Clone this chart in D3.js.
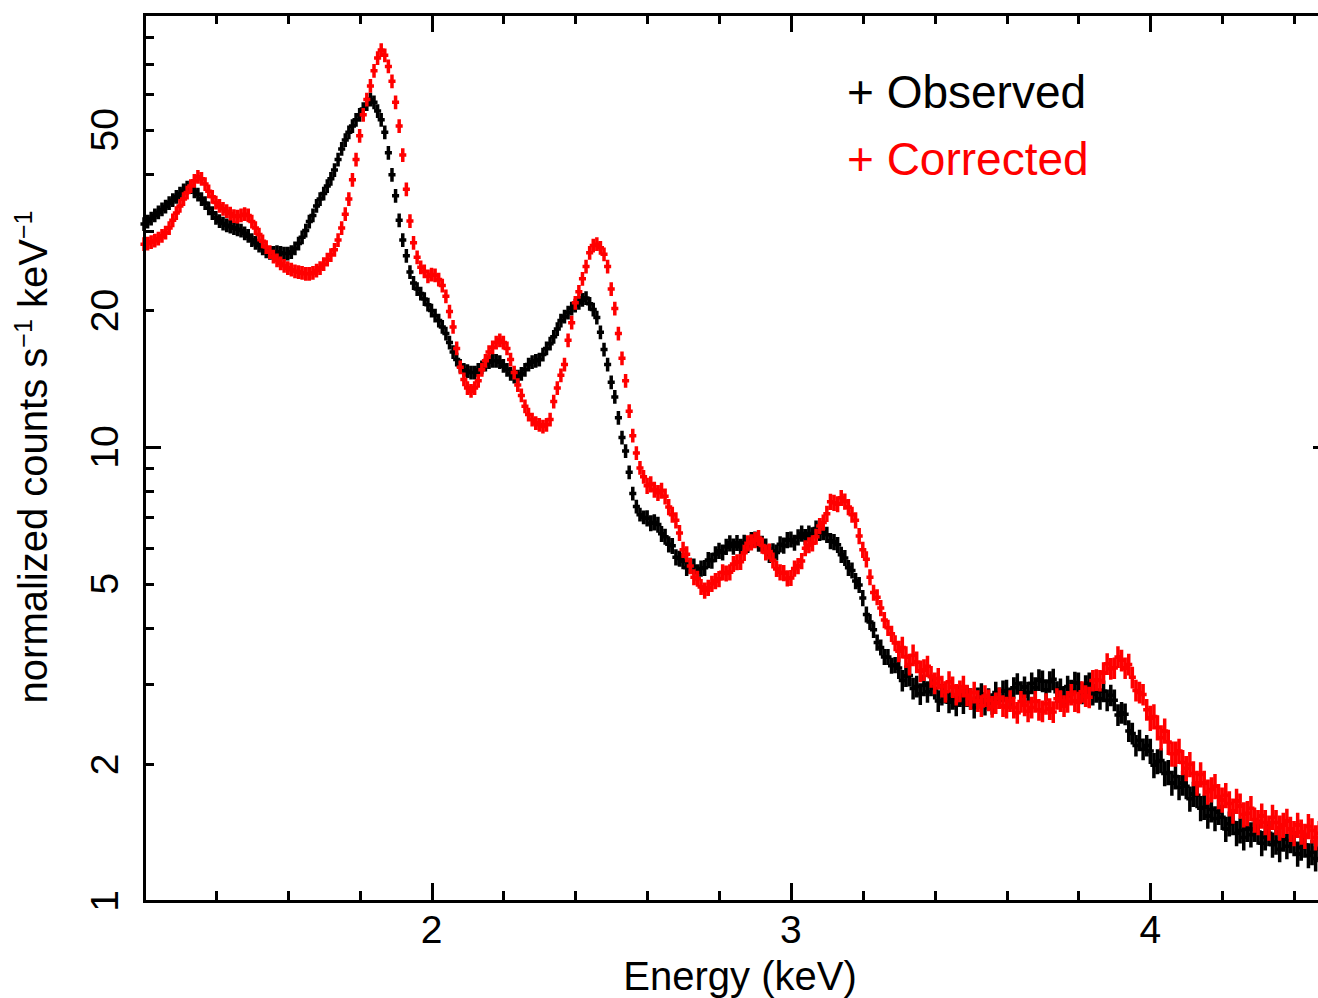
<!DOCTYPE html>
<html>
<head>
<meta charset="utf-8">
<script src="https://cdnjs.cloudflare.com/ajax/libs/d3/7.8.5/d3.min.js"></script>
<style>
  body { margin: 0; background: #fff; }
  svg { display: block; }
  text { font-family: "Liberation Sans", Arial, Helvetica, sans-serif; }
</style>
</head>
<body>
<svg id="chart" width="1318" height="998"></svg>
<script>
// bins start at 1.20 keV, 0.01 keV wide
const eStart = 1.2, binWidth = 0.01;

const observed = [
  31.0, 31.4, 31.9, 32.4, 32.9, 33.4, 33.9, 34.5, 35.0, 35.6,
  36.2, 36.8, 37.3, 37.4, 36.6, 36.0, 35.2, 34.5, 33.6, 32.8,
  32.0, 31.5, 31.1, 30.8, 30.6, 30.4, 30.2, 30.0, 29.6, 29.2,
  28.6, 28.2, 27.8, 27.4, 27.0, 26.8, 26.8, 26.9, 26.8, 26.7,
  26.7, 26.9, 27.4, 28.1, 29.0, 30.0, 31.4, 32.4, 34.0, 35.2,
  36.2, 37.6, 39.0, 40.8, 43.0, 45.4, 47.5, 49.4, 51.0, 52.6,
  54.0, 55.6, 57.0, 58.3, 57.5, 55.0, 52.6, 49.4, 44.5, 39.8,
  35.8, 31.6, 28.6, 26.4, 24.3, 23.0, 22.3, 21.8, 21.2, 20.6,
  20.0, 19.5, 19.0, 18.4, 17.8, 17.0, 16.2, 15.6, 15.1, 14.8,
  14.7, 14.6, 14.6, 14.8, 15.0, 15.2, 15.4, 15.5, 15.5, 15.4,
  15.1, 14.8, 14.5, 14.3, 14.3, 14.5, 14.8, 15.2, 15.4, 15.5,
  15.6, 16.0, 16.5, 16.9, 17.5, 18.2, 19.0, 19.4, 19.8, 20.2,
  20.5, 20.8, 21.1, 21.3, 20.7, 20.1, 19.3, 17.9, 16.4, 15.2,
  13.9, 12.9, 11.6, 10.5, 9.8, 8.8, 7.9, 7.4, 7.1, 7.0,
  6.97, 6.80, 6.83, 6.75, 6.44, 6.35, 6.11, 6.06, 5.72, 5.68,
  5.61, 5.42, 5.48, 5.46, 5.30, 5.40, 5.42, 5.64, 5.62, 5.81,
  5.91, 5.86, 6.03, 6.14, 6.04, 6.15, 6.03, 6.16, 6.09, 6.24,
  6.26, 6.13, 6.13, 6.04, 5.79, 5.90, 5.86, 6.11, 6.07, 6.24,
  6.26, 6.16, 6.33, 6.45, 6.34, 6.45, 6.40, 6.62, 6.47, 6.50,
  6.41, 6.21, 6.18, 6.09, 5.79, 5.70, 5.42, 5.35, 5.07, 4.97,
  4.65, 4.28, 4.12, 3.96, 3.71, 3.62, 3.45, 3.45, 3.30, 3.31,
  3.26, 3.06, 3.13, 3.14, 2.94, 2.97, 2.86, 2.99, 2.89, 2.99,
  2.94, 2.76, 2.85, 2.88, 2.74, 2.79, 2.70, 2.83, 2.73, 2.83,
  2.79, 2.67, 2.80, 2.86, 2.71, 2.79, 2.72, 2.88, 2.80, 2.90,
  2.91, 2.80, 2.95, 3.01, 2.89, 2.96, 2.88, 3.02, 2.95, 3.07,
  3.05, 2.92, 3.04, 3.08, 2.89, 2.93, 2.82, 2.97, 2.91, 3.03,
  3.02, 2.87, 2.98, 3.02, 2.85, 2.89, 2.79, 2.90, 2.77, 2.84,
  2.77, 2.57, 2.60, 2.58, 2.37, 2.34, 2.20, 2.26, 2.16, 2.20,
  2.14, 1.99, 2.03, 2.04, 1.91, 1.92, 1.82, 1.88, 1.78, 1.82,
  1.79, 1.68, 1.72, 1.71, 1.60, 1.61, 1.54, 1.59, 1.52, 1.57,
  1.53, 1.44, 1.48, 1.49, 1.41, 1.43, 1.38, 1.44, 1.40, 1.44,
  1.42, 1.34, 1.38, 1.41, 1.33, 1.35, 1.30, 1.37, 1.32, 1.36,
  1.34, 1.27, 1.31, 1.33, 1.26, 1.28, 1.24, 1.30, 1.26, 1.30,
  1.24
];

const corrected = [
  28.0, 28.1, 28.3, 28.5, 28.8, 29.2, 29.7, 30.4, 31.6, 32.8,
  34.0, 35.2, 36.4, 37.6, 38.6, 39.4, 39.0, 38.0, 36.6, 35.6,
  34.6, 34.0, 33.5, 33.1, 32.7, 32.3, 32.2, 32.4, 32.6, 32.4,
  31.4, 30.4, 29.4, 28.4, 27.6, 26.9, 26.3, 25.8, 25.4, 25.1,
  24.8, 24.6, 24.4, 24.3, 24.2, 24.1, 24.1, 24.2, 24.5, 24.8,
  25.3, 25.9, 26.5, 27.2, 28.6, 30.4, 32.6, 35.2, 38.8, 43.0,
  48.5, 54.0, 58.3, 62.5, 67.5, 72.0, 75.0, 73.0, 69.0, 64.0,
  57.5, 51.0, 44.0, 37.0, 31.5, 28.2, 26.2, 24.9, 24.4, 23.8,
  24.0, 23.9, 23.4, 22.7, 21.5, 19.9, 18.4, 16.5, 15.0, 14.1,
  13.5, 13.3, 13.5, 14.0, 14.8, 15.5, 16.2, 16.6, 17.0, 17.2,
  17.0, 16.5, 15.6, 14.6, 13.7, 13.0, 12.3, 11.8, 11.5, 11.3,
  11.2, 11.1, 11.2, 11.5, 12.6, 13.5, 14.4, 15.2, 17.2, 18.8,
  20.8, 22.0, 23.5, 25.0, 26.8, 27.8, 28.0, 27.5, 26.6, 25.0,
  22.3, 20.2, 17.8, 15.7, 14.0, 12.0, 10.6, 9.7, 9.0, 8.6,
  8.22, 8.28, 8.06, 7.93, 8.02, 7.79, 7.38, 7.10, 6.90, 6.47,
  5.94, 5.81, 5.47, 5.17, 5.13, 4.92, 4.83, 4.90, 5.00, 5.07,
  5.12, 5.30, 5.27, 5.30, 5.53, 5.58, 5.59, 5.85, 6.14, 6.17,
  6.24, 6.31, 6.07, 5.86, 5.89, 5.63, 5.39, 5.30, 5.28, 5.14,
  5.15, 5.40, 5.47, 5.61, 5.99, 6.08, 6.14, 6.35, 6.70, 6.82,
  7.13, 7.58, 7.54, 7.49, 7.73, 7.59, 7.38, 7.10, 6.90, 6.37,
  5.94, 5.66, 5.17, 4.78, 4.67, 4.42, 4.16, 4.00, 3.88, 3.70,
  3.55, 3.62, 3.45, 3.32, 3.48, 3.36, 3.21, 3.23, 3.29, 3.12,
  3.02, 3.09, 2.97, 2.89, 3.04, 2.96, 2.85, 2.90, 2.97, 2.84,
  2.79, 2.88, 2.76, 2.69, 2.83, 2.77, 2.68, 2.73, 2.80, 2.69,
  2.67, 2.76, 2.67, 2.60, 2.75, 2.70, 2.62, 2.67, 2.75, 2.64,
  2.62, 2.72, 2.65, 2.61, 2.79, 2.76, 2.69, 2.75, 2.85, 2.76,
  2.74, 2.89, 2.83, 2.81, 3.06, 3.07, 3.06, 3.18, 3.33, 3.25,
  3.26, 3.45, 3.39, 3.26, 3.32, 3.11, 2.91, 2.88, 2.85, 2.64,
  2.53, 2.55, 2.41, 2.29, 2.37, 2.24, 2.11, 2.11, 2.14, 2.02,
  1.96, 2.00, 1.91, 1.82, 1.90, 1.82, 1.74, 1.76, 1.79, 1.70,
  1.67, 1.71, 1.64, 1.58, 1.66, 1.62, 1.55, 1.56, 1.60, 1.51,
  1.49, 1.54, 1.49, 1.45, 1.53, 1.49, 1.45, 1.47, 1.50, 1.44,
  1.41, 1.47, 1.42, 1.39, 1.46, 1.43, 1.38, 1.41, 1.44, 1.39,
  1.36
];

// relative error by energy band: [from keV, fraction]
const errBands = [[1.2, 0.026], [2.6, 0.032], [3.3, 0.046], [4.0, 0.055]];

const xMajor = [2, 3, 4];
const xMinor = [1.4, 1.6, 1.8, 2.2, 2.4, 2.6, 2.8, 3.2, 3.4, 3.6, 3.8, 4.2, 4.4];
const yMajor = [1, 10];
const yMinor = [2, 3, 4, 5, 6, 7, 8, 9, 20, 30, 40, 50, 60, 70, 80];
const yLabels = [1, 2, 5, 10, 20, 50];

const series = [
  {name: "Observed", color: "#000000", values: observed},
  {name: "Corrected", color: "#ff0000", values: corrected}
];

let svg = d3.select("#chart");
svg.append("rect").attr("width", 1318).attr("height", 998).attr("fill", "#fff");

let x = d3.scaleLinear().domain([1.2, 4.5]).range([144, 1330]);
let y = d3.scaleLog().domain([1, 90]).range([901, 14]);

function relErr(e){
  let r = errBands[0][1];
  errBands.forEach(b => { if (e >= b[0] - 1e-9) r = b[1]; });
  return r;
}

// data: crosses with energy bin and error bar
let marks = svg.append("g").attr("id", "data");
series.forEach(s => {
  let p = d3.path();
  s.values.forEach((v, i) => {
    let e = eStart + i * binWidth;
    let r = relErr(e);
    let cy = y(v), cx = x(e);
    p.moveTo(x(e - binWidth / 2), cy);
    p.lineTo(x(e + binWidth / 2), cy);
    p.moveTo(cx, y(v * (1 + r)));
    p.lineTo(cx, y(v * (1 - r)));
  });
  marks.append("path")
    .attr("d", p.toString())
    .attr("fill", "none")
    .attr("stroke", s.color)
    .attr("stroke-width", 3.5)
    .attr("stroke-linecap", "square");
});

// frame + inward ticks
let axes = svg.append("g").attr("id", "axes");
function addAxis(axis, t){
  axes.append("g").attr("transform", t)
    .call(axis.tickFormat(""))
    .call(g => g.select(".domain").remove())
    .call(g => g.selectAll("line").attr("stroke", "#000").attr("stroke-width", 3).attr("shape-rendering", "crispEdges"));
}
addAxis(d3.axisBottom(x).tickValues(xMajor).tickSize(-18), "translate(0,901)");
addAxis(d3.axisBottom(x).tickValues(xMinor).tickSize(-10), "translate(0,901)");
addAxis(d3.axisTop(x).tickValues(xMajor).tickSize(-18), "translate(0,14)");
addAxis(d3.axisTop(x).tickValues(xMinor).tickSize(-10), "translate(0,14)");
addAxis(d3.axisLeft(y).tickValues(yMajor).tickSize(-17), "translate(144,0)");
addAxis(d3.axisLeft(y).tickValues(yMinor).tickSize(-10), "translate(144,0)");
addAxis(d3.axisRight(y).tickValues(yMajor).tickSize(-17), "translate(1330,0)");
addAxis(d3.axisRight(y).tickValues(yMinor).tickSize(-10), "translate(1330,0)");

axes.append("rect")
  .attr("x", 144).attr("y", 14)
  .attr("width", 1330 - 144).attr("height", 901 - 14)
  .attr("fill", "none").attr("stroke", "#000").attr("stroke-width", 3)
  .attr("shape-rendering", "crispEdges");

// tick labels
svg.append("g").selectAll("text").data(xMajor).enter().append("text")
  .attr("x", d => x(d)).attr("y", 943)
  .attr("text-anchor", "middle").attr("font-size", 39)
  .text(d => d);

svg.append("g").selectAll("text").data(yLabels).enter().append("text")
  .attr("transform", d => `translate(118,${y(d)}) rotate(-90)`)
  .attr("text-anchor", "middle").attr("font-size", 39)
  .text(d => d);

// axis titles
svg.append("text")
  .attr("x", 740).attr("y", 990)
  .attr("text-anchor", "middle").attr("font-size", 40)
  .text("Energy (keV)");

let yt = svg.append("text")
  .attr("transform", "translate(47,457) rotate(-90)")
  .attr("text-anchor", "middle").attr("font-size", 40);
yt.append("tspan").text("normalized counts s");
yt.append("tspan").attr("font-size", 25).attr("dy", -15).text("\u22121");
yt.append("tspan").attr("dy", 15).text(" keV");
yt.append("tspan").attr("font-size", 25).attr("dy", -15).text("\u22121");

// legend
svg.append("g").selectAll("text").data(series).enter().append("text")
  .attr("x", 847).attr("y", (d, i) => 108 + i * 67)
  .attr("font-size", 46)
  .attr("fill", d => d.color)
  .text(d => "+ " + d.name);
</script>
</body>
</html>
